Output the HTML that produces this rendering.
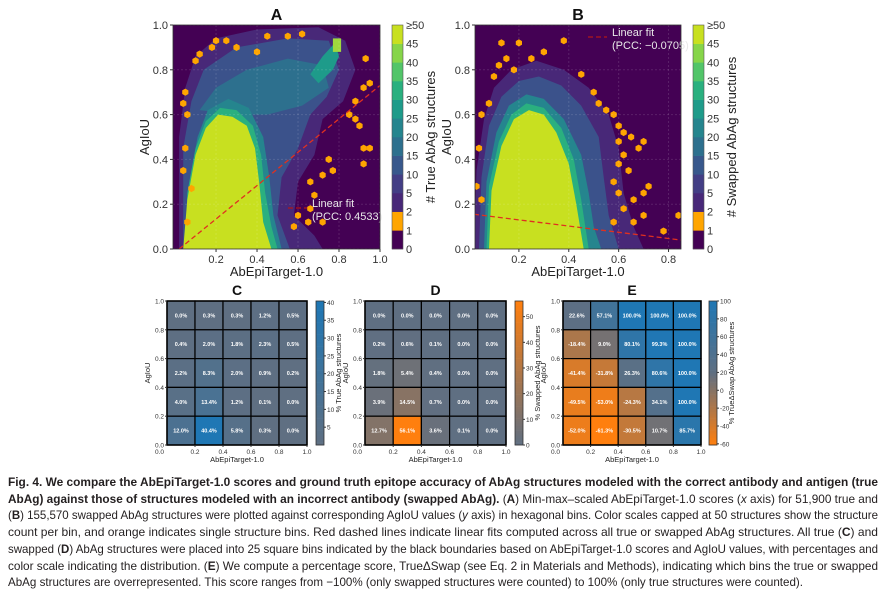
<!DOCTYPE html>
<html><head><meta charset="utf-8">
<style>
html,body{margin:0;padding:0;background:#fff;}
body{width:886px;height:598px;position:relative;overflow:hidden;font-family:"Liberation Sans",sans-serif;}
svg text{font-family:"Liberation Sans",sans-serif;}
.cap{position:absolute;left:8px;width:870px;font-size:12px;line-height:16px;white-space:nowrap;color:#231f20;}
.cap span{display:inline-block;transform-origin:0 0;}
</style></head><body>
<svg id="fig" width="886" height="465" style="position:absolute;left:0;top:0" xmlns="http://www.w3.org/2000/svg"></svg>

<div class="cap" style="top:474px"><span><b>Fig. 4. We compare the AbEpiTarget-1.0 scores and ground truth epitope accuracy of AbAg structures modeled with the correct antibody and antigen (true</b></span></div>
<div class="cap" style="top:490.7px"><span><b>AbAg) against those of structures modeled with an incorrect antibody (swapped AbAg).</b> (<b>A</b>) Min-max–scaled AbEpiTarget-1.0 scores (<i>x</i> axis) for 51,900 true and</span></div>
<div class="cap" style="top:507.4px"><span>(<b>B</b>) 155,570 swapped AbAg structures were plotted against corresponding AgIoU values (<i>y</i> axis) in hexagonal bins. Color scales capped at 50 structures show the structure</span></div>
<div class="cap" style="top:524.1px"><span>count per bin, and orange indicates single structure bins. Red dashed lines indicate linear fits computed across all true or swapped AbAg structures. All true (<b>C</b>) and</span></div>
<div class="cap" style="top:540.8px"><span>swapped (<b>D</b>) AbAg structures were placed into 25 square bins indicated by the black boundaries based on AbEpiTarget-1.0 scores and AgIoU values, with percentages and</span></div>
<div class="cap" style="top:557.5px"><span>color scale indicating the distribution. (<b>E</b>) We compute a percentage score, TrueΔSwap (see Eq. 2 in Materials and Methods), indicating which bins the true or swapped</span></div>
<div class="cap" style="top:574.2px"><span data-last="1">AbAg structures are overrepresented. This score ranges from −100% (only swapped structures were counted) to 100% (only true structures were counted).</span></div>

<script>
// ---------- data ----------
const binLabels = ['0.0-0.2','0.2-0.4','0.4-0.6','0.6-0.8','0.8-1.0'];
const hexTicksX = [0.2,0.4,0.6,0.8,1.0];
const hexTicksXB = [0.2,0.4,0.6,0.8];
const hexTicksY = [0.0,0.2,0.4,0.6,0.8,1.0];
const cbLabels = ['0','1','2','5','10','15','20','25','30','35','40','45','≥50'];
// rows: top (AgIoU 0.8-1.0) to bottom (0.0-0.2)
const trueValues = [
 [0.0,0.3,0.3,1.2,0.5],
 [0.4,2.0,1.8,2.3,0.5],
 [2.2,8.3,2.0,0.9,0.2],
 [4.0,13.4,1.2,0.1,0.0],
 [12.0,40.4,5.8,0.3,0.0]];
const swapValues = [
 [0.0,0.0,0.0,0.0,0.0],
 [0.2,0.6,0.1,0.0,0.0],
 [1.8,5.4,0.4,0.0,0.0],
 [3.9,14.5,0.7,0.0,0.0],
 [12.7,56.1,3.6,0.1,0.0]];
const deltaValues = [
 [22.6,57.1,100.0,100.0,100.0],
 [-18.4,9.0,80.1,99.3,100.0],
 [-41.4,-31.8,26.3,80.6,100.0],
 [-49.5,-53.0,-24.3,34.1,100.0],
 [-52.0,-61.3,-30.5,10.7,85.7]];
const fitA = [[0.02,0.0],[1.0,0.73]];
const fitB = [[0.02,0.155],[0.85,0.04]];
const gridTicks = [0.2,0.4,0.6,0.8,1.0];

const NS='http://www.w3.org/2000/svg';
const svg=document.getElementById('fig');
function el(tag,attrs,parent,text){const e=document.createElementNS(NS,tag);for(const k in attrs)e.setAttribute(k,attrs[k]);if(text!==undefined)e.textContent=text;(parent||svg).appendChild(e);return e;}
function lerp(a,b,t){return a+(b-a)*t;}
function mix(c1,c2,t){t=Math.max(0,Math.min(1,t));const p=c=>[parseInt(c.slice(1,3),16),parseInt(c.slice(3,5),16),parseInt(c.slice(5,7),16)];const a=p(c1),b=p(c2);return 'rgb('+a.map((v,i)=>Math.round(lerp(v,b[i],t))).join(',')+')';}
const viridis=['#440154','#ffa500','#482878','#433e85','#38588c','#2d708e','#25858e','#1e9b8a','#2ab07f','#52c569','#86d549','#c8e020'];

// ---------- hexbin panel ----------
function hexPanel(o){
  const g=el('g',{},svg);
  const X=v=>o.x0+(v-o.xmin)/(o.xmax-o.xmin)*(o.x1-o.x0), Y=v=>o.y1-v*(o.y1-o.y0);
  const cid='clip'+o.name;const cp=el('clipPath',{id:cid},g);el('rect',{x:o.x0,y:o.y0,width:o.x1-o.x0,height:o.y1-o.y0},cp);
  const pg=el('g',{'clip-path':'url(#'+cid+')'},g);
  el('rect',{x:o.x0,y:o.y0,width:o.x1-o.x0,height:o.y1-o.y0,fill:'#440154'},pg);
  const poly=(pts,fill)=>el('path',{d:'M'+pts.map(p=>X(p[0]).toFixed(1)+','+Y(p[1]).toFixed(1)).join('L')+'Z',fill:fill},pg);
  o.layers.forEach(l=>poly(l[0],l[1]));
  o.oranges.forEach(p=>{const cx=X(p[0]),cy=Y(p[1]),r=3.6;let d='';for(let i=0;i<6;i++){const a=Math.PI/6+i*Math.PI/3;d+=(i?'L':'M')+(cx+r*Math.cos(a)).toFixed(1)+','+(cy+r*Math.sin(a)).toFixed(1);}el('path',{d:d+'Z',fill:'#ffa500'},pg);});
  hexTicksY.forEach(t=>el('line',{x1:o.x0,x2:o.x1,y1:Y(t),y2:Y(t),stroke:'#ffffff',opacity:0.12,'stroke-dasharray':'2,2'},pg));
  o.xt.forEach(t=>el('line',{x1:X(t),x2:X(t),y1:o.y0,y2:o.y1,stroke:'#ffffff',opacity:0.12,'stroke-dasharray':'2,2'},pg));
  const f=el('line',{x1:X(o.fit[0][0]),y1:Y(o.fit[0][1]),x2:X(o.fit[1][0]),y2:Y(o.fit[1][1]),stroke:'#e03020','stroke-width':1.3,'stroke-dasharray':'5,3'},pg);
  
  el('line',{x1:o.leg[0],x2:o.leg[0]+19,y1:o.leg[1]+5,y2:o.leg[1]+5,stroke:'#b01818','stroke-width':1.3,'stroke-dasharray':'5,3'},g);
  el('text',{x:o.leg[0]+24,y:o.leg[1]+4,fill:'#e8e8e8','font-size':11},g,'Linear fit');
  el('text',{x:o.leg[0]+24,y:o.leg[1]+17,fill:'#e8e8e8','font-size':11},g,o.pcc);
  el('rect',{x:o.x0,y:o.y0,width:o.x1-o.x0,height:o.y1-o.y0,fill:'none',stroke:'#333','stroke-width':0.8},g);
  hexTicksY.forEach(t=>{el('line',{x1:o.x0-3,x2:o.x0,y1:Y(t),y2:Y(t),stroke:'#333'},g);el('text',{x:o.x0-5,y:Y(t)+4,'text-anchor':'end','font-size':11,fill:'#333'},g,t.toFixed(1));});
  o.xt.forEach(t=>{el('line',{x1:X(t),x2:X(t),y1:o.y1,y2:o.y1+3,stroke:'#333'},g);el('text',{x:X(t),y:o.y1+14,'text-anchor':'middle','font-size':11,fill:'#333'},g,t.toFixed(1));});
  const xl=el('text',{x:(o.x0+o.x1)/2,y:o.y1+27,'text-anchor':'middle','font-size':13,fill:'#222'},g,'AbEpiTarget-1.0');
  const yl=el('text',{x:0,y:0,'text-anchor':'middle','font-size':13,fill:'#222',transform:'translate('+(o.x0-24)+','+((o.y0+o.y1)/2)+') rotate(-90)'},g,'AgIoU');
  const tt=el('text',{x:(o.x0+o.x1)/2,y:o.y0-5,'text-anchor':'middle','font-size':16,'font-weight':'bold',fill:'#111'},g,o.title);
  const cb=el('g',{},g);
  const n=cbLabels.length-1,h=(o.y1-o.y0)/n;
  for(let i=0;i<n;i++)el('rect',{x:o.cbx,y:o.y1-(i+1)*h,width:11,height:h+0.3,fill:viridis[i]},cb);
  el('rect',{x:o.cbx,y:o.y0,width:11,height:o.y1-o.y0,fill:'none',stroke:'#555','stroke-width':0.6},cb);
  cbLabels.forEach((l,i)=>el('text',{x:o.cbx+14,y:o.y1-i*h+4,'font-size':11,fill:'#333'},cb,l));
  el('text',{x:0,y:0,'text-anchor':'middle','font-size':13,fill:'#222',transform:'translate('+(o.cbx+43)+','+((o.y0+o.y1)/2)+') rotate(-90)'},cb,o.cbl);
}
hexPanel({name:'hexbin-panel-a',title:'A',x0:173,x1:380,y0:25,y1:249,xmin:-0.01,xmax:1.0,xt:hexTicksX,fit:fitA,leg:[288,203],pcc:'(PCC: 0.4533)',cbx:392,cbl:'# True AbAg structures',
 layers:[
  [[[0.02,0],[0.02,0.5],[0.05,0.72],[0.1,0.86],[0.2,0.94],[0.4,0.98],[0.7,0.99],[0.83,0.93],[0.88,0.8],[0.82,0.66],[0.72,0.58],[0.68,0.42],[0.6,0.3],[0.58,0.15],[0.68,0.06],[0.72,0]],'#482878'],
  [[[0.04,0],[0.04,0.45],[0.08,0.66],[0.14,0.8],[0.3,0.9],[0.55,0.94],[0.75,0.93],[0.8,0.8],[0.74,0.68],[0.66,0.6],[0.6,0.45],[0.52,0.32],[0.5,0.15],[0.56,0]],'#3b528b'],
  [[[0.12,0.62],[0.2,0.72],[0.35,0.8],[0.55,0.85],[0.72,0.82],[0.75,0.72],[0.62,0.64],[0.45,0.6],[0.3,0.6]],'#2d708e'],
  [[[0.06,0],[0.07,0.3],[0.11,0.5],[0.16,0.62],[0.26,0.67],[0.36,0.63],[0.43,0.5],[0.46,0.32],[0.48,0.15],[0.52,0]],'#25858e'],
  [[[0.05,0],[0.06,0.25],[0.1,0.45],[0.15,0.57],[0.22,0.63],[0.3,0.62],[0.38,0.55],[0.42,0.42],[0.44,0.25],[0.47,0.1],[0.5,0]],'#2ab07f'],
  [[[0.7,0.74],[0.77,0.8],[0.8,0.86],[0.78,0.92],[0.72,0.86],[0.66,0.78]],'#1e9b8a'],
  [[[0.04,0],[0.06,0.22],[0.1,0.42],[0.15,0.54],[0.21,0.6],[0.28,0.59],[0.35,0.55],[0.39,0.45],[0.41,0.3],[0.43,0.12],[0.47,0]],'#c8e020'],
  [[[0.77,0.88],[0.81,0.88],[0.81,0.94],[0.77,0.94]],'#9fd83d']],
 oranges:[[0.04,0.65],[0.05,0.7],[0.06,0.6],[0.05,0.45],[0.04,0.35],[0.1,0.84],[0.12,0.87],[0.18,0.9],[0.2,0.93],[0.25,0.93],[0.3,0.9],[0.4,0.88],[0.45,0.95],[0.55,0.95],[0.62,0.96],[0.92,0.72],[0.95,0.74],[0.85,0.6],[0.88,0.58],[0.9,0.55],[0.92,0.45],[0.95,0.45],[0.92,0.38],[0.75,0.4],[0.77,0.35],[0.72,0.33],[0.66,0.3],[0.68,0.24],[0.66,0.18],[0.6,0.15],[0.58,0.1],[0.65,0.12],[0.72,0.12],[0.06,0.12],[0.08,0.27],[0.88,0.66],[0.93,0.85]]});
hexPanel({name:'hexbin-panel-b',title:'B',x0:475,x1:681,y0:25,y1:249,xmin:0.024,xmax:0.85,xt:hexTicksXB,fit:fitB,leg:[588,32],pcc:'(PCC: −0.0705)',cbx:693,cbl:'# Swapped AbAg structures',
 layers:[
  [[[0.02,0],[0.03,0.35],[0.06,0.58],[0.1,0.72],[0.17,0.8],[0.27,0.84],[0.38,0.8],[0.48,0.72],[0.56,0.6],[0.6,0.45],[0.62,0.25],[0.66,0.1],[0.7,0]],'#482878'],
  [[[0.04,0],[0.05,0.32],[0.08,0.55],[0.13,0.68],[0.2,0.75],[0.28,0.77],[0.37,0.73],[0.45,0.64],[0.52,0.5],[0.54,0.32],[0.56,0.15],[0.6,0]],'#3b528b'],
  [[[0.06,0],[0.07,0.3],[0.11,0.52],[0.16,0.64],[0.23,0.69],[0.3,0.67],[0.38,0.58],[0.45,0.42],[0.48,0.25],[0.5,0.1],[0.53,0]],'#25858e'],
  [[[0.07,0],[0.08,0.28],[0.12,0.48],[0.17,0.6],[0.23,0.65],[0.3,0.63],[0.37,0.54],[0.42,0.4],[0.45,0.22],[0.48,0]],'#2ab07f'],
  [[[0.08,0],[0.09,0.26],[0.13,0.46],[0.18,0.58],[0.24,0.62],[0.3,0.6],[0.35,0.52],[0.4,0.38],[0.43,0.2],[0.46,0]],'#c8e020']],
 oranges:[[0.12,0.82],[0.15,0.85],[0.18,0.8],[0.1,0.77],[0.2,0.92],[0.13,0.92],[0.25,0.85],[0.3,0.88],[0.38,0.93],[0.45,0.78],[0.5,0.7],[0.52,0.65],[0.55,0.62],[0.58,0.6],[0.6,0.55],[0.62,0.52],[0.6,0.48],[0.65,0.5],[0.68,0.45],[0.7,0.48],[0.62,0.42],[0.6,0.38],[0.64,0.35],[0.58,0.3],[0.6,0.25],[0.66,0.22],[0.7,0.25],[0.72,0.28],[0.62,0.18],[0.66,0.12],[0.7,0.15],[0.58,0.12],[0.04,0.45],[0.03,0.28],[0.05,0.22],[0.05,0.6],[0.08,0.65],[0.84,0.15],[0.78,0.08]]});

// ---------- heatmap panels ----------
function heat(o){
  const g=el('g',{},svg);
  const w=(o.x1-o.x0)/5,h=(o.y1-o.y0)/5;
  const X=v=>o.x0+v*(o.x1-o.x0), Y=v=>o.y1-v*(o.y1-o.y0);
  o.values.forEach((row,r)=>row.forEach((v,c)=>{
    const cell=el('rect',{x:o.x0+c*w,y:o.y0+r*h,width:w,height:h,fill:o.color(v),stroke:'#000','stroke-width':1.2},g);
    
    
    el('text',{x:o.x0+c*w+w/2,y:o.y0+r*h+h/2+2,'text-anchor':'middle','font-size':5.5,'font-weight':'bold',fill:'#fff'},g,v.toFixed(1)+'%');
  }));
  el('rect',{x:o.x0,y:o.y0,width:o.x1-o.x0,height:o.y1-o.y0,fill:'none',stroke:'#000','stroke-width':1.5},g);
  hexTicksY.forEach(t=>{el('line',{x1:o.x0-2,x2:o.x0,y1:Y(t),y2:Y(t),stroke:'#333'},g);el('text',{x:o.x0-3,y:Y(t)+2.5,'text-anchor':'end','font-size':6.5,fill:'#333'},g,t.toFixed(1));});
  gridTicks.forEach(t=>{el('line',{x1:X(t),x2:X(t),y1:o.y1,y2:o.y1+2,stroke:'#333'},g);el('text',{x:X(t),y:o.y1+9,'text-anchor':'middle','font-size':6.5,fill:'#333'},g,t.toFixed(1));});
  el('text',{x:o.x0-3,y:o.y1+9,'text-anchor':'end','font-size':6.5,fill:'#333'},g,'0.0');
  el('text',{x:(o.x0+o.x1)/2,y:o.y1+17,'text-anchor':'middle','font-size':7.5,fill:'#222'},g,'AbEpiTarget-1.0');
  el('text',{x:0,y:0,'text-anchor':'middle','font-size':7.5,fill:'#222',transform:'translate('+(o.x0-17)+','+((o.y0+o.y1)/2)+') rotate(-90)'},g,'AgIoU');
  el('text',{x:(o.x0+o.x1)/2,y:o.y0-6,'text-anchor':'middle','font-size':14,'font-weight':'bold',fill:'#111'},g,o.title);
  const cb=el('g',{},g);
  const N=60;for(let i=0;i<N;i++){const v=lerp(o.cmin,o.cmax,(i+0.5)/N);el('rect',{x:o.cbx,y:o.y1-(i+1)*(o.y1-o.y0)/N,width:8,height:(o.y1-o.y0)/N+0.3,fill:o.color(v)},cb);}
  el('rect',{x:o.cbx,y:o.y0,width:8,height:o.y1-o.y0,fill:'none',stroke:'#333','stroke-width':0.8},cb);
  o.cticks.forEach(t=>{const yy=o.y1-(t-o.cmin)/(o.cmax-o.cmin)*(o.y1-o.y0);el('line',{x1:o.cbx+8,x2:o.cbx+10,y1:yy,y2:yy,stroke:'#333'},cb);el('text',{x:o.cbx+11,y:yy+2.5,'font-size':6.5,fill:'#333'},cb,String(t));});
  el('text',{x:0,y:0,'text-anchor':'middle','font-size':7.5,fill:'#222',transform:'translate('+(o.cbx+25)+','+((o.y0+o.y1)/2)+') rotate(-90)'},cb,o.cbl);
}
const slate='#5f6f82';
heat({name:'heatmap-c',title:'C',x0:167,x1:307,y0:301,y1:445,values:trueValues,color:v=>mix(slate,'#1f77b4',v/40),cmin:0,cmax:40.4,cticks:[5,10,15,20,25,30,35,40],cbx:316,cbl:'% True AbAg structures'});
heat({name:'heatmap-d',title:'D',x0:365,x1:506,y0:301,y1:445,values:swapValues,color:v=>mix(slate,'#ff7f0e',v/56),cmin:0,cmax:56.1,cticks:[0,10,20,30,40,50],cbx:515,cbl:'% Swapped AbAg structures'});
heat({name:'heatmap-e',title:'E',x0:563,x1:701,y0:301,y1:445,values:deltaValues,color:v=>v>=20?mix(slate,'#1f77b4',(v-20)/80):mix(slate,'#ff7f0e',(20-v)/81),cmin:-61.3,cmax:100,cticks:[-60,-40,-20,0,20,40,60,80,100],cbx:709,cbl:'% TrueΔSwap AbAg structures'});

// ---------- caption justification ----------
document.querySelectorAll('.cap span').forEach(s=>{const w=s.getBoundingClientRect().width;const k=(s.dataset.last?795:870)/w;s.style.transform='scaleX('+k+')';});
</script>
</body></html>
